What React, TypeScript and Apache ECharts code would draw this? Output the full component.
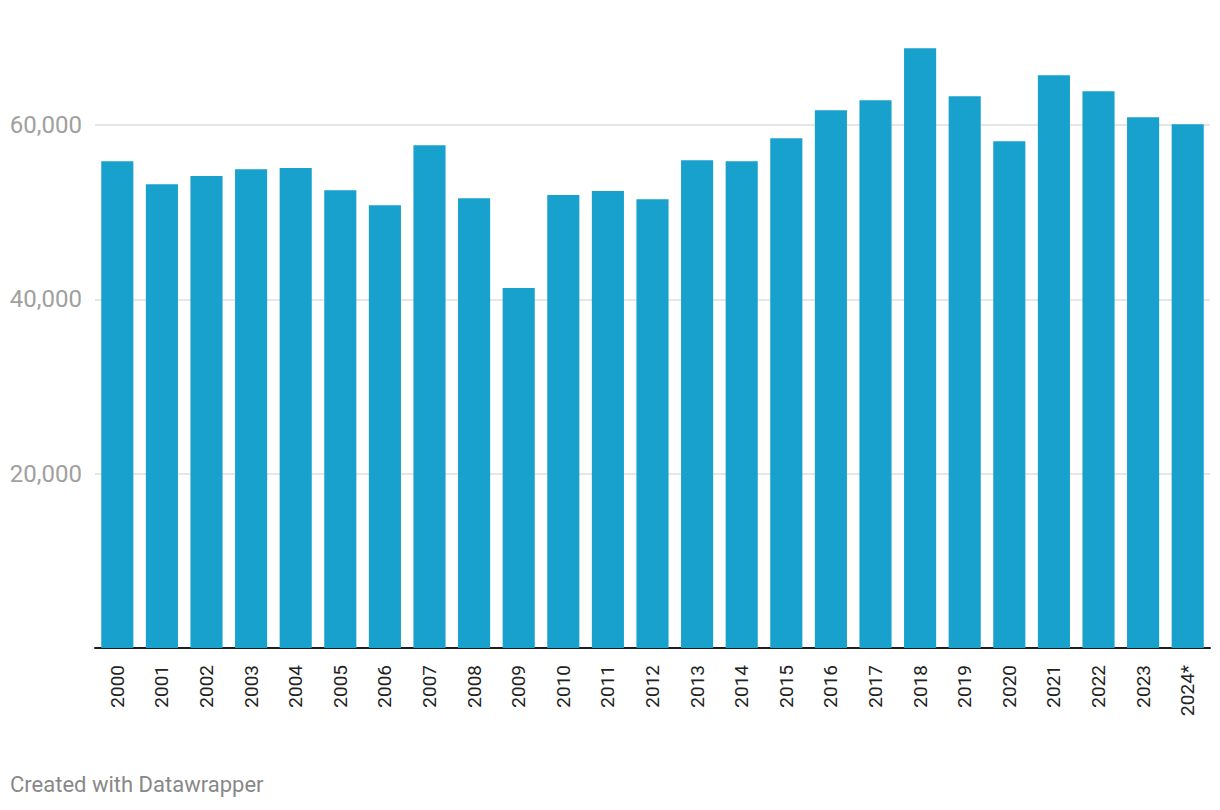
import React, { useEffect, useRef } from "react";
import * as echarts from "echarts";

const years = [
  "2000", "2001", "2002", "2003", "2004", "2005", "2006", "2007", "2008", "2009",
  "2010", "2011", "2012", "2013", "2014", "2015", "2016", "2017", "2018", "2019",
  "2020", "2021", "2022", "2023", "2024*",
];

const values = [
  55870, 53230, 54150, 54950, 55070, 52540, 50820, 57700, 51620, 41300,
  51970, 52430, 51510, 55980, 55870, 58510, 61720, 62870, 68830, 63320,
  58160, 65730, 63900, 60920, 60110,
];

const yTicks = [0, 20000, 40000, 60000];
const yMax = 70000;
const footer = "Created with Datawrapper";

export default function App() {
  const ref = useRef<HTMLDivElement>(null);

  useEffect(() => {
    document.body.style.margin = "0";
    if (!ref.current) return;
    const chart = echarts.init(ref.current, null, { renderer: "svg" });
    const interval = yTicks[1] - yTicks[0];
    const splitColors = [
      ...yTicks.map(() => "#e6e6e6"),
      "rgba(0,0,0,0)",
    ];
    chart.setOption({
      animation: false,
      textStyle: { fontFamily: "Roboto" },
      grid: { left: 95, right: 10, top: 38, bottom: 162, containLabel: false },
      xAxis: {
        type: "category",
        data: years,
        axisTick: { show: false },
        axisLine: { show: true, lineStyle: { color: "#1d1d1d", width: 2 } },
        axisLabel: {
          rotate: 90,
          margin: 17,
          fontSize: 19,
          color: "#222",
          fontFamily: "Roboto",
          interval: 0,
        },
      },
      yAxis: {
        type: "value",
        min: 0,
        max: yMax,
        interval,
        axisLine: { show: false },
        axisTick: { show: false },
        axisLabel: {
          showMinLabel: false,
          showMaxLabel: false,
          margin: 13,
          fontSize: 24,
          color: "#a0a0a0",
          fontFamily: "Roboto",
          formatter: (v: number) => v.toLocaleString("en-US"),
        },
        splitLine: { show: true, lineStyle: { color: splitColors, width: 2 } },
      },
      series: [
        {
          type: "bar",
          data: values,
          barCategoryGap: "28%",
          itemStyle: { color: "#18a1cd" },
          silent: true,
        },
      ],
      graphic: [
        {
          type: "text",
          left: 10,
          top: 773,
          style: {
            text: footer,
            fontSize: 22,
            fill: "#888",
            fontFamily: "Roboto",
          },
        },
      ],
    });
    return () => chart.dispose();
  }, []);

  return <div ref={ref} style={{ width: 1220, height: 810 }} />;
}
